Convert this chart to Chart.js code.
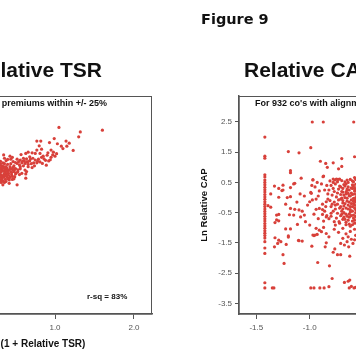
<!DOCTYPE html>
<html>
<head>
<meta charset="utf-8">
<script src="https://cdn.jsdelivr.net/npm/chart.js@4/dist/chart.umd.min.js"></script>
<style>
  html, body { margin: 0; padding: 0; background: #fff; }
  #wrap { position: relative; width: 356px; height: 364px; overflow: hidden; background: #fff; }
  canvas { position: absolute; top: 0; }
  .t { position: absolute; white-space: nowrap; line-height: 1; font-family: 'Liberation Sans', Arial, sans-serif; font-weight: bold; color: #111; }
</style>
</head>
<body>
<div id="wrap">
  <canvas id="tsr" width="290" height="364" style="left:-130px"></canvas>
  <canvas id="cap" width="300" height="364" style="left:195px"></canvas>
  <div class="t" style="left:201px;top:12px;font-family:'DejaVu Sans',sans-serif;font-size:14.5px;">Figure 9</div>
  <div class="t" style="right:254px;top:59px;font-size:21px;">Relative TSR</div>
  <div class="t" style="left:244px;top:59px;font-size:21px;">Relative CAP</div>
  <div class="t" style="right:249px;top:99px;font-size:9px;">For co's with pay premiums within +/- 25%</div>
  <div class="t" style="left:255px;top:99px;font-size:9px;">For 932 co's with alignment</div>
  <div class="t" style="left:87px;top:292.5px;font-size:8px;">r-sq = 83%</div>
</div>
<script>
// ---- Data ----
// Left panel: x = Ln(1 + Relative TSR), y = Ln Relative CAP
const tsrPoints = [
  [1.05,2.32],[1.60,2.23],[1.32,2.17],[1.30,2.01],[0.99,1.95],[0.77,1.87],[0.82,1.87],[0.93,1.82],
  [1.14,1.87],[1.03,1.78],[1.08,1.70],[1.15,1.70],[0.80,1.71],[1.23,1.56],[0.77,1.57],[0.83,1.60],
  [0.95,1.57],[0.91,1.48],[0.98,1.50],[1.00,1.37],[0.97,1.41],[0.90,1.40],[0.81,1.46],[0.66,1.50],
  [0.71,1.48],[0.75,1.46],[0.63,1.46],[0.57,1.42],[0.85,1.37],[0.83,1.33],[0.35,1.41],[0.43,1.37],
  [0.46,1.33],[0.52,1.27],[0.56,1.24],[0.60,1.30],[0.64,1.28],[0.68,1.35],[0.72,1.30],[0.75,1.24],
  [0.79,1.27],[0.88,1.23],[0.92,1.21],[0.94,1.25],[0.84,1.13],[0.89,1.07],[0.73,1.15],[0.77,1.15],
  [0.62,1.13],[0.66,1.19],[0.58,1.15],[0.47,1.19],[0.52,1.13],[0.54,1.19],[0.56,1.02],[0.60,1.05],
  [0.66,1.02],[0.71,0.99],[0.62,0.91],[0.64,0.86],[0.58,0.80],[0.63,0.78],[0.51,0.82],[0.47,0.91],
  [0.43,1.02],[0.39,0.97],[0.35,1.02],[0.30,1.08],[0.33,0.91],[0.37,0.86],[0.41,0.80],[0.45,0.75],
  [0.49,0.69],[0.39,0.69],[0.35,0.75],[0.30,0.80],[0.33,0.64],[0.37,0.60],[0.42,0.58],[0.46,0.60],
  [0.30,0.52],[0.34,0.42],[0.42,0.47],[0.52,0.42],[0.63,0.64],[0.31,1.20],[0.34,1.15],[0.38,1.22],
  [0.40,1.10],[0.44,1.12],[0.48,1.05],[0.50,0.96],[0.45,0.95],[0.41,0.90],[0.37,0.95],[0.32,0.98],
  [0.36,1.30],[0.40,1.26],[0.33,0.72],[0.38,0.78],[0.43,0.68],[0.48,0.86],[0.53,0.92],[0.55,0.76],
  [0.28,0.90],[0.28,0.65],[0.27,1.00],[0.25,0.70],[0.20,0.60],[0.15,0.50],[0.10,0.40],[0.22,0.85],
  [0.68,1.22],[0.70,1.12],[0.74,1.05],[0.78,1.20],[0.86,1.28],[0.81,1.18],[0.95,1.33],[1.02,1.45],
  [1.10,1.62],[1.18,1.80],[0.31,0.58],[0.36,0.50],[0.29,1.15],[0.44,1.27],[0.50,1.16],[0.55,1.08],
  [0.30,1.00],[0.31,0.93],[0.32,0.85],[0.31,0.76],[0.30,0.68],[0.32,0.60],[0.34,0.55],[0.33,1.05],
  [0.34,0.97],[0.35,0.88],[0.36,0.80],[0.35,0.68],[0.37,0.72],[0.38,1.02],[0.39,0.90],[0.40,0.83],
  [0.41,0.74],[0.42,0.64],[0.43,0.95],[0.44,0.86],[0.45,0.82],[0.46,0.70],[0.47,1.00],[0.49,0.93],
  [0.50,0.78],[0.36,1.12],[0.31,1.12],[0.30,0.95],[0.29,0.72],[0.32,0.50],[0.38,0.53],[0.40,0.62],
  [0.48,0.62],[0.53,0.85],[0.56,0.95],[0.59,1.20],[0.61,1.22],[0.64,1.18],[0.69,1.28],[0.66,1.10]
];
// Right panel: x = relative performance measure, y = Ln Relative CAP
const capPoints = [
  [-1.42,2.00],[-1.42,1.37],[-1.42,1.30],[-1.42,0.75],[-1.42,0.68],[-1.42,0.58],[-1.42,0.50],[-1.42,0.42],
  [-1.42,0.34],[-1.42,0.26],[-1.42,0.18],[-1.42,0.10],[-1.42,0.02],[-1.42,-0.06],[-1.42,-0.14],[-1.42,-0.22],
  [-1.42,-0.30],[-1.42,-0.38],[-1.42,-0.46],[-1.42,-0.54],[-1.42,-0.62],[-1.42,-0.70],[-1.42,-0.78],[-1.42,-0.86],
  [-1.42,-0.94],[-1.42,-1.02],[-1.42,-1.10],[-1.42,-1.18],[-1.42,-1.26],[-1.42,-1.34],[-1.42,-1.46],[-1.42,-1.67],
  [-1.42,-1.85],[-1.42,-2.82],[-1.42,-2.99],
  [-0.976,2.5],[-0.873,2.5],[-0.588,2.5],
  [-1.20,1.52],[-1.10,1.48],[-0.99,1.65],[-0.90,1.20],[-0.85,1.13],[-0.835,1.00],[-0.78,1.15],[-0.70,1.29],
  [-0.73,0.95],[-0.70,1.03],[-0.58,1.35],
  [-1.18,0.82],[-1.08,0.64],[-0.97,0.59],[-0.875,0.69],[-0.78,0.61],[-0.75,0.61],[-0.72,0.61],[-0.65,0.58],[-0.58,0.66],
  [-1.33,0.38],[-1.29,0.30],[-1.25,0.41],[-1.26,0.23],[-1.18,0.33],[-1.365,0.12],[-1.29,0.01],[-1.21,0.00],
  [-1.18,0.03],[-1.39,-0.27],[-1.365,-0.32],[-1.225,-0.22],[-1.18,-0.36],[-1.14,-0.39],[-1.10,-0.41],[-1.07,-0.45],
  [-1.31,-0.58],[-1.29,-0.56],[-1.31,-0.74],[-1.29,-0.77],[-1.19,-0.57],[-1.15,-0.58],[-1.325,-0.83],[-1.225,-1.04],
  [-1.18,-1.04],[-1.325,-1.33],[-1.29,-1.41],[-1.20,-1.31],[-1.115,-0.89],[-1.085,-0.64],[-1.05,-0.58],[-1.105,-1.42],
  [-1.07,-1.44],[-1.04,-0.80],[-1.00,-0.91],[-1.00,-0.14],[-0.975,-0.08],[-0.94,-0.05],[-0.99,0.17],[-0.91,0.22],
  [-0.94,-0.39],[-0.91,-0.36],[-0.88,-0.22],[-0.845,-0.14],[-0.88,-0.56],[-0.845,-0.64],[-0.80,-0.52],[-0.94,-1.02],
  [-0.91,-1.08],[-0.87,-0.99],[-0.97,-1.24],[-0.93,-1.22],[-0.845,-1.19],[-0.82,-1.30],[-0.76,-0.91],[-0.725,-0.80],
  [-0.69,-1.02],[-0.69,-1.35],[-0.65,-1.46],
  [-1.30,-1.52],[-1.27,-1.46],[-1.22,-1.55],[-1.25,-1.89],[-1.24,-2.18],[-1.10,-1.43],[-0.98,-1.61],[-0.925,-2.15],
  [-0.99,-2.99],[-0.96,-2.99],[-0.905,-2.99],[-0.865,-2.99],[-0.82,-2.95],[-0.855,-1.63],[-0.845,-1.50],[-0.815,-2.26],
  [-0.79,-2.68],[-0.78,-1.81],[-0.765,-1.70],[-0.74,-1.89],[-0.71,-1.89],[-0.71,-1.52],[-0.675,-1.57],[-0.635,-1.63],
  [-0.625,-1.94],[-0.595,-1.52],[-0.675,-2.81],[-0.64,-2.77],[-0.625,-2.73],[-0.63,-2.99],[-0.61,-2.94],[-0.585,-2.99],
  [-0.57,-2.97],[-1.35,-2.99],[-1.335,-2.99],[-0.58,-1.40],[-0.61,-1.38],[-1.33,-1.63],[-1.20,-1.27],[-0.96,-1.26],
  [-0.95,-1.24],[-0.89,-1.13],
  [-1.25,0.25],[-1.09,0.12],[-0.985,0.14],[-0.97,0.58],[-1.18,0.89],[-1.14,0.47],[-0.87,0.71],[-0.765,0.58],
  [-0.735,0.60],[-0.67,0.52],
  [-0.95,0.35],[-0.92,0.05],[-0.89,0.45],[-0.86,0.25],[-0.84,0.40],[-0.83,-0.05],[-0.88,-0.40],[-0.85,-0.30],
  [-0.96,-0.55],[-0.92,-0.70],[-0.87,-0.78],[-0.84,-0.60],[-1.02,-0.25],[-1.05,0.05],[-1.12,-0.15],[-1.15,0.45],
  [-0.98,0.40],[-0.93,0.50],
  [-0.81,0.55],[-0.78,0.50],[-0.74,0.52],[-0.70,0.56],[-0.66,0.45],[-0.62,0.60],[-0.59,0.52],[-0.57,0.44],
  [-0.80,0.40],[-0.76,0.45],[-0.72,0.38],[-0.68,0.43],[-0.64,0.35],[-0.60,0.42],[-0.58,0.30],[-0.56,0.20],
  [-0.82,0.25],[-0.77,0.20],[-0.73,0.28],[-0.69,0.18],[-0.65,0.24],[-0.61,0.15],[-0.58,0.22],[-0.56,0.08],
  [-0.79,0.08],[-0.75,0.02],[-0.71,0.10],[-0.67,0.00],[-0.63,0.06],[-0.59,-0.03],[-0.57,-0.15],
  [-0.81,-0.10],[-0.77,-0.15],[-0.73,-0.08],[-0.69,-0.18],[-0.65,-0.12],[-0.61,-0.20],[-0.58,-0.10],[-0.56,-0.28],
  [-0.80,-0.30],[-0.76,-0.25],[-0.72,-0.35],[-0.68,-0.28],[-0.64,-0.38],[-0.60,-0.30],[-0.57,-0.40],[-0.56,-0.52],
  [-0.78,-0.45],[-0.74,-0.52],[-0.70,-0.45],[-0.66,-0.55],[-0.62,-0.48],[-0.59,-0.58],[-0.56,-0.66],
  [-0.80,-0.62],[-0.75,-0.68],[-0.71,-0.60],[-0.67,-0.72],[-0.63,-0.65],[-0.58,-0.75],[-0.56,-0.85],
  [-0.77,-0.80],[-0.72,-0.85],[-0.66,-0.82],[-0.60,-0.90],[-0.58,-1.05],[-0.62,-1.12],[-0.66,-1.20],
  [-0.74,-0.22],[-0.70,-0.02],[-0.66,0.12],[-0.62,-0.30],[-0.60,0.30],[-0.64,0.50],[-0.78,0.30],[-0.76,-0.38],
  [-0.68,-0.65],[-0.63,-0.88],[-0.59,-0.20],[-0.57,0.00],[-0.60,0.55],[-0.74,0.15],[-0.79,-0.22],[-0.83,0.12],
  [-0.86,-0.45],[-0.82,-0.70],[-0.77,-1.05],[-0.73,-1.15],[-0.64,-1.30],[-0.57,-1.25],[-0.57,0.60],[-0.56,0.35],
  [-0.71,0.35],[-0.69,0.30],[-0.67,0.38],[-0.65,0.28],[-0.63,0.25],[-0.61,0.32],[-0.59,0.38],[-0.57,0.25],
  [-0.70,0.20],[-0.68,0.08],[-0.66,0.18],[-0.64,0.14],[-0.62,0.05],[-0.60,0.10],[-0.58,0.12],[-0.57,-0.05],
  [-0.71,-0.05],[-0.69,-0.10],[-0.67,-0.20],[-0.65,-0.02],[-0.63,-0.15],[-0.61,-0.08],[-0.59,-0.12],[-0.58,-0.25],
  [-0.71,-0.30],[-0.69,-0.38],[-0.66,-0.35],[-0.64,-0.25],[-0.62,-0.40],[-0.60,-0.45],[-0.58,-0.35],[-0.57,-0.50],
  [-0.70,-0.55],[-0.68,-0.50],[-0.65,-0.62],[-0.63,-0.55],[-0.61,-0.60],[-0.59,-0.68],[-0.57,-0.62],[-0.60,-0.78],
  [-0.64,-0.75],[-0.69,-0.72],[-0.66,-0.90],[-0.62,-0.95],[-0.58,-0.85]
];
const tsrTicksX = [0.0, 1.0, 2.0];
const capTicksX = [-1.5, -1.0, -0.5, 0.0, 0.5];
const capTicksY = [2.5, 1.5, 0.5, -0.5, -1.5, -2.5, -3.5];

// ---- Shared styling ----
const DOT = '#d8403a';
const AX = '#555';
const FONT = "'Liberation Sans', Arial, sans-serif";
const tickFont = { family: FONT, size: 8 };

const boxPlugin = {
  id: 'box',
  afterDraw(chart) {
    const { ctx, chartArea: a } = chart;
    ctx.save();
    ctx.strokeStyle = AX;
    ctx.lineWidth = 1;
    ctx.strokeRect(a.left, a.top + 0.5, a.right - a.left - 0.5, a.bottom - a.top - 0.5);
    ctx.restore();
  }
};

function setTicks(list) {
  return (s) => { s.ticks = list.map(v => ({ value: v })); };
}
function fmt(v) { return Number(v).toFixed(1); }

function dataset(points) {
  return {
    data: points.map(([x, y]) => ({ x, y })),
    backgroundColor: DOT,
    borderWidth: 0,
    pointRadius: 1.6,
    pointHoverRadius: 1.6
  };
}

const xAxisCommon = {
  type: 'linear',
  position: 'bottom',
  border: { display: true, color: AX, width: 1.5 },
  grid: { display: true, drawOnChartArea: false, drawTicks: true, tickLength: 5, color: AX, lineWidth: 1 },
  ticks: { font: tickFont, color: AX, padding: 4, callback: fmt, maxRotation: 0, autoSkip: false },
  afterFit: (s) => { s.height = 50; }
};

// ---- Left panel ----
new Chart(document.getElementById('tsr'), {
  type: 'scatter',
  data: { datasets: [dataset(tsrPoints)] },
  options: {
    responsive: false, animation: false, events: [],
    layout: { padding: { top: 96, right: 8, left: 49, bottom: 0 } },
    plugins: { legend: { display: false }, tooltip: { enabled: false } },
    scales: {
      x: Object.assign({}, xAxisCommon, {
        min: -0.722, max: 2.228,
        afterBuildTicks: setTicks(tsrTicksX),
        title: { display: true, text: 'Ln (1 + Relative TSR)', color: '#111',
                 font: { family: FONT, size: 10, weight: 'bold' }, padding: { top: 0, bottom: 14 } }
      }),
      y: { type: 'linear', display: false, min: -3.854, max: 3.36 }
    }
  },
  plugins: [boxPlugin]
});

// ---- Right panel ----
new Chart(document.getElementById('cap'), {
  type: 'scatter',
  data: { datasets: [dataset(capPoints)] },
  options: {
    responsive: false, animation: false, events: [],
    layout: { padding: { top: 96, right: 8, left: 0, bottom: 0 } },
    plugins: { legend: { display: false }, tooltip: { enabled: false } },
    scales: {
      x: Object.assign({}, xAxisCommon, {
        min: -1.662, max: 0.660,
        afterBuildTicks: setTicks(capTicksX)
      }),
      y: {
        type: 'linear', position: 'left', min: -3.854, max: 3.36,
        afterBuildTicks: setTicks(capTicksY),
        border: { display: true, color: AX, width: 1.5 },
        grid: { display: true, drawOnChartArea: false, drawTicks: true, tickLength: 4, color: AX, lineWidth: 1 },
        ticks: { font: tickFont, color: AX, padding: 3, callback: fmt, autoSkip: false },
        title: { display: true, text: 'Ln Relative CAP', color: '#111',
                 font: { family: FONT, size: 9.5, weight: 'bold' }, padding: { top: 4, bottom: 4 } },
        afterFit: (s) => { s.width = 44; }
      }
    }
  },
  plugins: [boxPlugin]
});
</script>
</body>
</html>
